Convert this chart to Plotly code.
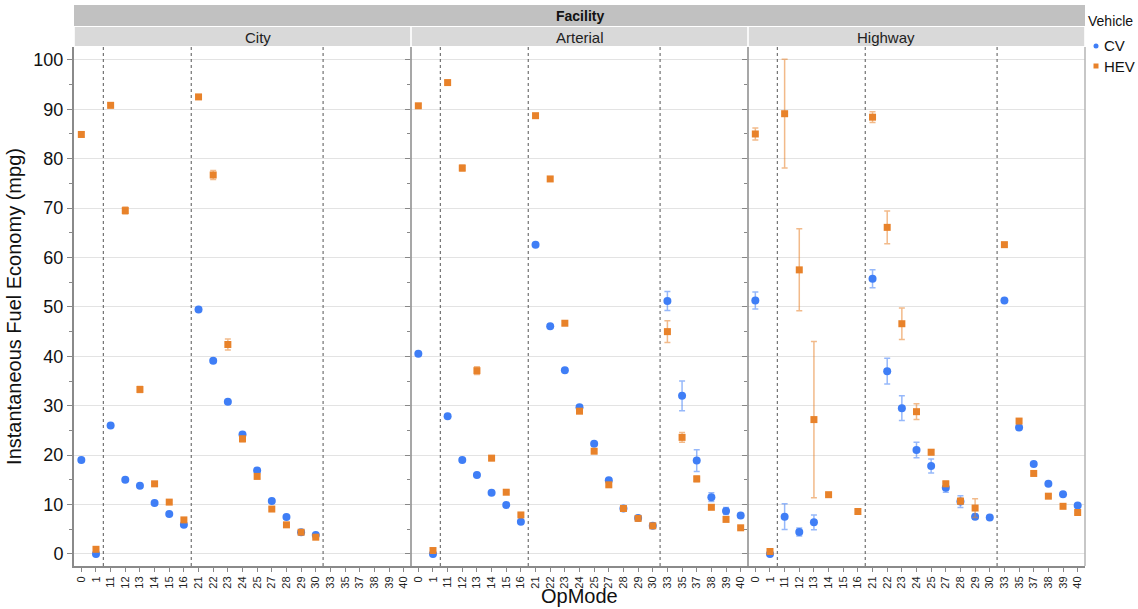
import plotly.graph_objects as go
from plotly.subplots import make_subplots

opmodes = ["0", "1", "11", "12", "13", "14", "15", "16", "21", "22", "23", "24",
           "25", "27", "28", "29", "30", "33", "35", "37", "38", "39", "40"]
facilities = ["City", "Arterial", "Highway"]
vehicles = ["CV", "HEV"]

# City
city_cv = [19.0, 0.0, 26.0, 15.0, 13.8, 10.3, 8.1, 5.9, 49.5, 39.1, 30.8, 24.2,
           16.9, 10.7, 7.5, 4.4, 3.85, None, None, None, None, None, None]
city_cv_err = [0.3, 0.1, 0.3, 0.3, 0.3, 0.2, 0.2, 0.2, 0.3, 0.4, 0.4, 0.4,
               0.4, 0.3, 0.2, 0.2, 0.2, 0, 0, 0, 0, 0, 0]
city_hev = [84.9, 0.95, 90.8, 69.5, 33.3, 14.2, 10.5, 6.9, 92.5, 76.7, 42.4, 23.3,
            15.7, 9.1, 5.9, 4.4, 3.4, None, None, None, None, None, None]
city_hev_err = [0.5, 0.2, 0.5, 0.7, 0.6, 0.3, 0.3, 0.3, 0.4, 0.9, 1.1, 0.6,
                0.4, 0.3, 0.2, 0.2, 0.2, 0, 0, 0, 0, 0, 0]

# Arterial
art_cv = [40.5, 0.0, 27.9, 19.0, 16.0, 12.4, 9.9, 6.5, 62.6, 46.1, 37.2, 29.7,
          22.3, 14.9, 9.2, 7.3, 5.7, 51.2, 32.0, 18.9, 11.5, 8.7, 7.8]
art_cv_err = [0.3, 0.1, 0.3, 0.3, 0.3, 0.2, 0.2, 0.2, 0.3, 0.3, 0.3, 0.4,
              0.4, 0.3, 0.2, 0.2, 0.2, 1.9, 3.0, 2.2, 0.9, 0.7, 0.4]
art_hev = [90.7, 0.7, 95.4, 78.1, 37.1, 19.4, 12.5, 7.9, 88.7, 75.9, 46.7, 28.9,
           20.8, 14.0, 9.2, 7.2, 5.7, 45.0, 23.6, 15.2, 9.45, 7.0, 5.3]
art_hev_err = [0.4, 0.2, 0.4, 0.6, 0.8, 0.5, 0.3, 0.3, 0.4, 0.4, 0.4, 0.4,
               0.3, 0.3, 0.2, 0.2, 0.2, 2.2, 1.0, 0.6, 0.4, 0.3, 0.3]

# Highway
hwy_cv = [51.3, 0.0, 7.55, 4.45, 6.4, None, None, None, 55.7, 37.0, 29.5, 21.05,
          17.8, 13.4, 10.6, 7.55, 7.4, 51.3, 25.6, 18.2, 14.2, 12.1, 9.8]
hwy_cv_err = [1.7, 0.2, 2.6, 0.8, 1.5, 0, 0, 0, 1.8, 2.6, 2.5, 1.55,
              1.4, 0.9, 1.2, 0.5, 0.3, 0.3, 0.4, 0.3, 0.3, 0.3, 0.3]
hwy_hev = [85.0, 0.5, 89.1, 57.5, 27.2, 12.0, None, 8.6, 88.4, 66.1, 46.6, 28.8,
           20.6, 14.2, 10.7, 9.3, None, 62.6, 26.9, 16.3, 11.7, 9.65, 8.4]
hwy_hev_err = [1.2, 0.3, 11.0, 8.3, 15.8, 0.3, 0, 0.3, 1.1, 3.3, 3.2, 1.6,
               0.5, 0.5, 0.6, 1.9, 0, 0.4, 0.4, 0.3, 0.3, 0.3, 0.3]

series = {
    "City": (city_cv, city_cv_err, city_hev, city_hev_err),
    "Arterial": (art_cv, art_cv_err, art_hev, art_hev_err),
    "Highway": (hwy_cv, hwy_cv_err, hwy_hev, hwy_hev_err),
}

CV_COLOR = "#3F7EF6"
HEV_COLOR = "#E8822A"
CV_ERR = "rgba(63,126,246,0.55)"
HEV_ERR = "rgba(232,130,42,0.55)"
REG = "Liberation Sans, Arial, sans-serif"

W, H = 1138, 609
ML, MR, MT, MB = 74, 53, 47, 43
PW, PH = W - ML - MR, H - MT - MB


def px_x(absx):
    return (absx - ML) / PW


def px_y(absy):
    return (H - MB - absy) / PH


fig = make_subplots(rows=1, cols=3, shared_yaxes=True, horizontal_spacing=0)

for i, fac in enumerate(facilities, start=1):
    cv, cv_e, hev, hev_e = series[fac]
    fig.add_trace(go.Scatter(
        x=opmodes, y=cv, mode="markers", name="CV", legendgroup="CV",
        showlegend=False,
        marker=dict(symbol="circle", size=8, color=CV_COLOR),
        error_y=dict(type="data", array=cv_e, visible=True, color=CV_ERR,
                     thickness=1.5, width=3),
        cliponaxis=False), row=1, col=i)
    fig.add_trace(go.Scatter(
        x=opmodes, y=hev, mode="markers", name="HEV", legendgroup="HEV",
        showlegend=False,
        marker=dict(symbol="square", size=7, color=HEV_COLOR),
        error_y=dict(type="data", array=hev_e, visible=True, color=HEV_ERR,
                     thickness=1.5, width=3),
        cliponaxis=False), row=1, col=i)

for i in range(1, 4):
    fig.update_xaxes(
        row=1, col=i, type="category", categoryorder="array",
        categoryarray=opmodes, range=[-0.5, len(opmodes) - 0.5],
        tickangle=-90, tickfont=dict(family=REG, size=11, color="#222"),
        ticks="outside", ticklen=4, tickcolor="#888",
        showline=True, linecolor="#8a8a8a", linewidth=2,
        showgrid=False, zeroline=False, automargin=False)

fig.update_yaxes(
    range=[-2.43, 102.6], dtick=10, tick0=0,
    gridcolor="#E3E3E3", gridwidth=1, zeroline=False,
    ticks="outside", ticklen=5, tickcolor="#888",
    minor=dict(dtick=5, tick0=0, ticks="outside", ticklen=3, tickcolor="#888", showgrid=False),
    tickfont=dict(family=REG, size=18, color="#111"), automargin=False)
fig.update_yaxes(row=1, col=1, showline=True, linecolor="#8a8a8a", linewidth=2,
                 title=dict(text="Instantaneous Fuel Economy (mpg)",
                            font=dict(family=REG, size=20, color="#111"),
                            standoff=6))

shapes = []
# dotted separators between opmode groups
for xref in ["x", "x2", "x3"]:
    for pos in [1.5, 7.5, 16.5]:
        shapes.append(dict(type="line", xref=xref, yref="paper", x0=pos, x1=pos,
                           y0=0, y1=1, line=dict(color="#555", width=1, dash="dot")))
# panel separators and right border
for p in [1/3, 2/3]:
    shapes.append(dict(type="line", xref="paper", yref="paper", x0=p, x1=p, y0=0, y1=1,
                       line=dict(color="#8a8a8a", width=1.5)))
shapes.append(dict(type="line", xref="paper", yref="paper", x0=1, x1=1, y0=0, y1=1,
                   line=dict(color="#b5b5b5", width=1.5)))
# header strips
shapes.append(dict(type="rect", xref="paper", yref="paper", x0=0, x1=1,
                   y0=px_y(26), y1=px_y(5), fillcolor="#C1C1C1", line=dict(width=0), layer="below"))
for k in range(3):
    shapes.append(dict(type="rect", xref="paper", yref="paper", x0=k/3 + 0.0008, x1=(k+1)/3 - 0.0008,
                       y0=px_y(46), y1=px_y(27), fillcolor="#D9D9D9", line=dict(width=0), layer="below"))

# legend (drawn as marks + text, styled like the reference legend)
shapes.append(dict(type="circle", xref="paper", yref="paper",
                   x0=px_x(1093.5), x1=px_x(1098.5), y0=px_y(48.5), y1=px_y(43.5),
                   fillcolor=CV_COLOR, line=dict(width=0)))
shapes.append(dict(type="rect", xref="paper", yref="paper",
                   x0=px_x(1093.5), x1=px_x(1098.5), y0=px_y(68.5), y1=px_y(63.5),
                   fillcolor=HEV_COLOR, line=dict(width=0)))

annotations = [dict(text="<b>Facility</b>", xref="paper", yref="paper", x=0.5, y=px_y(16),
                    yanchor="middle", showarrow=False,
                    font=dict(family=REG, size=14, color="#111"))]
for k, fac in enumerate(facilities):
    annotations.append(dict(text=fac, xref="paper", yref="paper", x=(k + 0.5)/3, y=px_y(37),
                            yanchor="middle", showarrow=False,
                            font=dict(family=REG, size=15, color="#222")))
annotations.append(dict(text="OpMode", xref="paper", yref="paper", x=0.5, y=px_y(596),
                        yanchor="middle", showarrow=False,
                        font=dict(family=REG, size=20, color="#111")))
annotations.append(dict(text="Vehicle", xref="paper", yref="paper", x=px_x(1086), y=px_y(21),
                        xanchor="left", yanchor="middle", showarrow=False,
                        font=dict(family=REG, size=14, color="#111")))
for v, yy in zip(vehicles, [46, 66]):
    annotations.append(dict(text=v, xref="paper", yref="paper", x=px_x(1102), y=px_y(yy),
                            xanchor="left", yanchor="middle", showarrow=False,
                            font=dict(family=REG, size=15, color="#111")))

fig.update_layout(
    width=W, height=H,
    margin=dict(l=ML, r=MR, t=MT, b=MB, autoexpand=False),
    plot_bgcolor="white", paper_bgcolor="white",
    shapes=shapes, annotations=annotations,
    showlegend=False,
    font=dict(family=REG),
)

fig.write_html("out.html", config={"displayModeBar": False},
               post_script="document.body.style.margin='0';document.body.style.overflow='hidden';")
